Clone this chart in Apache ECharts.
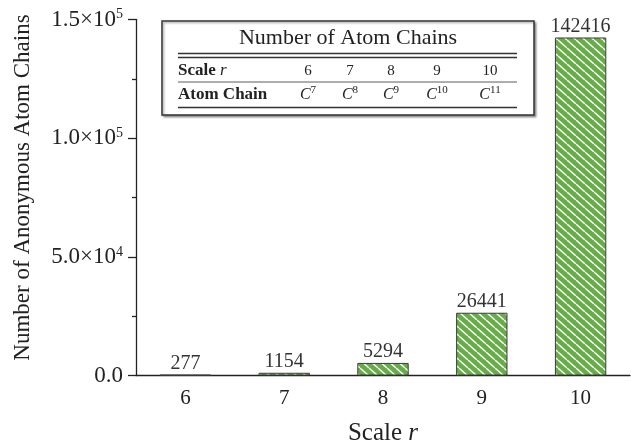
<!DOCTYPE html>
<html><head><meta charset="utf-8">
<script src="https://cdn.jsdelivr.net/npm/echarts@6/dist/echarts.min.js"></script>
<style>html,body{margin:0;padding:0;background:#fff}#c{width:631px;height:445px}</style>
</head><body><div id="c"></div>
<script>
const categories = ['6', '7', '8', '9', '10'];
const chainCounts = [277, 1154, 5294, 26441, 142416];
const yMin = 0, yMax = 150000, yInterval = 50000;
const tableTitle = 'Number of Atom Chains';
const tableRowLabels = ['Scale ', 'Atom Chain'];
const tableScales = ['6', '7', '8', '9', '10'];
const tableChainExps = ['7', '8', '9', '10', '11'];

const SERIF = '"Liberation Serif", "Times New Roman", serif';
const INK = '#222';

function makePattern() {
  const w = 9, h = 8;
  const c = document.createElement('canvas');
  c.width = w; c.height = h;
  const g = c.getContext('2d');
  g.fillStyle = '#66ad47';
  g.fillRect(0, 0, w, h);
  g.strokeStyle = '#ffffff';
  g.lineWidth = 1.4;
  for (const dx of [-w, 0, w]) {
    g.beginPath(); g.moveTo(dx, 0); g.lineTo(dx + w, h); g.stroke();
  }
  return c;
}

function yFmt(v) {
  if (v === 0) return '{m|0.0}';
  const e = Math.floor(Math.log10(v));
  const m = (v / Math.pow(10, e)).toFixed(1);
  return '{m|' + m + '×10}{s|' + e + '}';
}

const colX = [308, 350, 391, 437, 490];
const row1Y = 71, row2Y = 95;
const tblRich = {
  b: { fontFamily: SERIF, fontWeight: 'bold', fontSize: 17, fill: INK, color: INK },
  i: { fontFamily: SERIF, fontStyle: 'italic', fontSize: 17, fill: INK, color: INK },
  n: { fontFamily: SERIF, fontSize: 15, fill: INK, color: INK, lineHeight: 20 },
  c: { fontFamily: SERIF, fontStyle: 'italic', fontSize: 16, fill: INK, color: INK, lineHeight: 20 },
  s: { fontFamily: SERIF, fontSize: 11, fill: INK, color: INK, lineHeight: 11, verticalAlign: 'top' }
};

const graphic = [
  { type: 'rect', z: 100, shape: { x: 162, y: 21, width: 372, height: 94 },
    style: { fill: '#fff', stroke: '#333', lineWidth: 1.5, shadowColor: 'rgba(0,0,0,0.35)', shadowOffsetX: 1.5, shadowOffsetY: 1.5, shadowBlur: 2 } },
  { type: 'text', z: 101, x: 348, y: 38,
    style: { text: tableTitle, fontFamily: SERIF, fontSize: 22, fill: INK, align: 'center', verticalAlign: 'middle' } },
  { type: 'line', z: 101, shape: { x1: 178, y1: 53.5, x2: 517, y2: 53.5 }, style: { stroke: '#333', lineWidth: 1.3 } },
  { type: 'line', z: 101, shape: { x1: 178, y1: 57.5, x2: 517, y2: 57.5 }, style: { stroke: '#333', lineWidth: 1.3 } },
  { type: 'line', z: 101, shape: { x1: 178, y1: 82, x2: 517, y2: 82 }, style: { stroke: '#333', lineWidth: 0.8 } },
  { type: 'line', z: 101, shape: { x1: 178, y1: 107.5, x2: 517, y2: 107.5 }, style: { stroke: '#333', lineWidth: 1.3 } },
  { type: 'text', z: 101, x: 178, y: row1Y,
    style: { text: '{b|' + tableRowLabels[0] + '}{i|r}', rich: tblRich, align: 'left', verticalAlign: 'middle' } },
  { type: 'text', z: 101, x: 178, y: row2Y,
    style: { text: '{b|' + tableRowLabels[1] + '}', rich: tblRich, align: 'left', verticalAlign: 'middle' } }
];
tableScales.forEach((s, k) => {
  graphic.push({ type: 'text', z: 101, x: colX[k], y: row1Y,
    style: { text: '{n|' + s + '}', rich: tblRich, align: 'center', verticalAlign: 'middle' } });
  graphic.push({ type: 'text', z: 101, x: colX[k], y: row2Y,
    style: { text: '{c|C}{s|' + tableChainExps[k] + '}', rich: tblRich, align: 'center', verticalAlign: 'middle' } });
});

const chart = echarts.init(document.getElementById('c'), null, { renderer: 'canvas' });
const lineStyle = { color: INK, width: 1.3 };
chart.setOption({
  animation: false,
  backgroundColor: '#fff',
  grid: { left: 136, right: 1, top: 19.5, bottom: 69.5, outerBoundsMode: 'none' },
  xAxis: [
    {
      type: 'category', data: categories,
      name: '{n|Scale }{i|r}', nameLocation: 'middle', nameGap: 45,
      nameTextStyle: { rich: {
        n: { fontFamily: SERIF, fontSize: 25, color: INK },
        i: { fontFamily: SERIF, fontSize: 25, fontStyle: 'italic', color: INK } } },
      axisLine: { lineStyle },
      axisTick: { alignWithLabel: true, length: 7, lineStyle },
      axisLabel: { fontFamily: SERIF, fontSize: 21, color: INK, margin: 12 }
    },
    {
      type: 'category', data: categories, position: 'top', offset: -356,
      axisLine: { show: false },
      axisTick: { inside: true, length: 4, lineStyle },
      axisLabel: { show: false }
    }
  ],
  yAxis: {
    type: 'value', min: yMin, max: yMax, interval: yInterval,
    name: 'Number of Anonymous Atom Chains', nameLocation: 'middle', nameGap: 102,
    nameTextStyle: { fontFamily: SERIF, fontSize: 23, color: INK, padding: [0, 0, 0, 20] },
    axisLine: { show: true, lineStyle },
    axisTick: { show: true, length: 8, lineStyle },
    minorTick: { show: true, splitNumber: 2, length: 4, lineStyle },
    splitLine: { show: false },
    axisLabel: {
      margin: 13, formatter: yFmt,
      rich: {
        m: { fontFamily: SERIF, fontSize: 23, color: INK, lineHeight: 24 },
        s: { fontFamily: SERIF, fontSize: 14, color: INK, lineHeight: 13, verticalAlign: 'top' }
      }
    }
  },
  series: [{
    type: 'bar', data: chainCounts, barWidth: '52%', xAxisIndex: 0,
    itemStyle: { color: { image: makePattern(), repeat: 'repeat' }, borderColor: '#3c3c3c', borderWidth: 1 },
    label: { show: true, position: 'top', distance: 1, fontFamily: SERIF, fontSize: 20, color: '#333' }
  }],
  graphic
});
</script></body></html>
